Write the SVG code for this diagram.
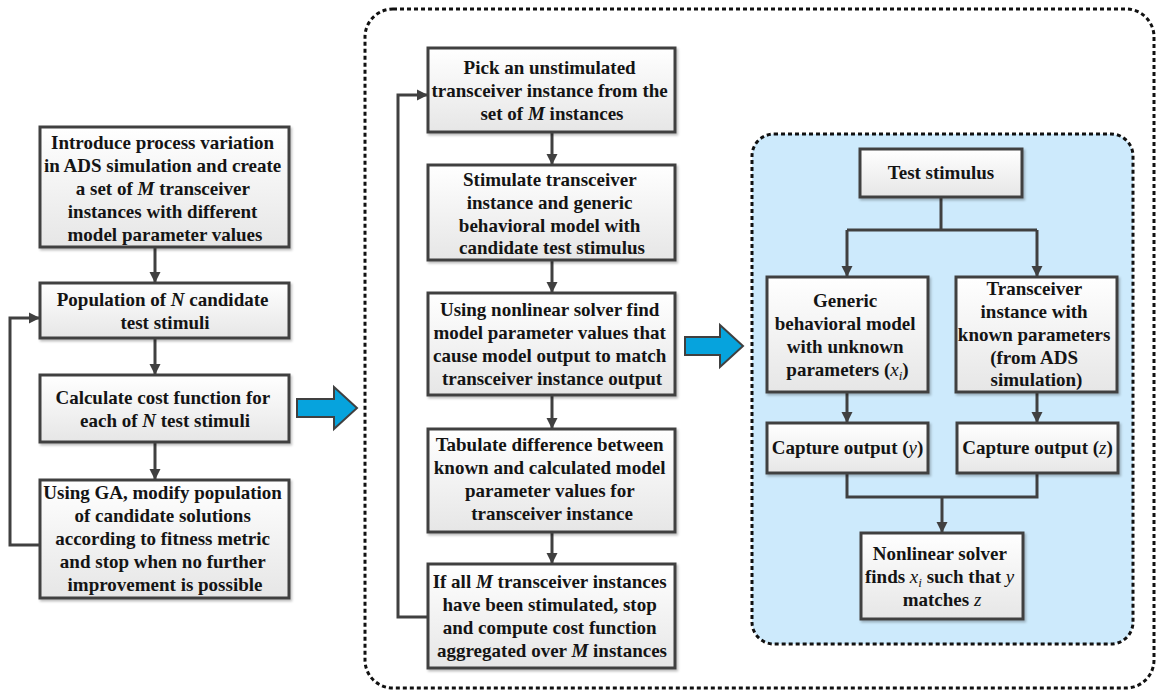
<svg xmlns="http://www.w3.org/2000/svg" width="1158" height="696" viewBox="0 0 1158 696">
  <defs>
    <linearGradient id="boxFill" x1="0" y1="0" x2="0" y2="1">
      <stop offset="0" stop-color="#ffffff"/>
      <stop offset="1" stop-color="#e6e6e6"/>
    </linearGradient>
    <filter id="shadow" x="-10%" y="-10%" width="120%" height="130%">
      <feDropShadow dx="1.5" dy="2" stdDeviation="1.2" flood-color="#000" flood-opacity="0.25"/>
    </filter>
    <marker id="arrow" markerUnits="userSpaceOnUse" markerWidth="12" markerHeight="12" refX="11" refY="6" orient="auto">
      <path d="M0,0.5 L11,6 L0,11.5 z" fill="#404040"/>
    </marker>
    <style>
      .box { fill: url(#boxFill); stroke: #404040; stroke-width: 3; filter: url(#shadow); }
      .t { font-family: "Liberation Serif", "Times New Roman", serif; font-size: 19px; font-weight: bold; fill: #141414; text-anchor: middle; }
      .v { font-style: italic; }
      .vn { font-style: italic; font-weight: normal; }
      .sub { font-style: italic; font-weight: normal; font-size: 13px; }
      .conn { fill: none; stroke: #404040; stroke-width: 3; }
      .frame { fill: none; stroke: #111; stroke-width: 3; stroke-dasharray: 4 3; }
      .blue { fill: #06a3dd; stroke: #404040; stroke-width: 2; stroke-linejoin: miter; }
    </style>
  </defs>

  <!-- enclosing dashed frames -->
  <rect class="frame" x="365" y="9" width="789" height="679" rx="28"/>
  <rect class="frame" x="752" y="134" width="381" height="510" rx="22" style="fill:#cdeafc"/>

  <!-- block arrows between stages -->
  <polygon class="blue" points="297,399 334,399 334,387 357,408 334,429 334,417 297,417"/>
  <polygon class="blue" points="685,337 720,337 720,325 743,346 720,367 720,355 685,355"/>

  <!-- connectors -->
  <g id="connectors">
    <line class="conn" x1="155" y1="247" x2="155" y2="283" marker-end="url(#arrow)"/>
    <line class="conn" x1="155" y1="338" x2="155" y2="375" marker-end="url(#arrow)"/>
    <line class="conn" x1="155" y1="442" x2="155" y2="480" marker-end="url(#arrow)"/>
    <path class="conn" d="M40,545 H10 V318 H40" marker-end="url(#arrow)"/>

    <line class="conn" x1="552" y1="132" x2="552" y2="165" marker-end="url(#arrow)"/>
    <line class="conn" x1="552" y1="260" x2="552" y2="293" marker-end="url(#arrow)"/>
    <line class="conn" x1="552" y1="395" x2="552" y2="429" marker-end="url(#arrow)"/>
    <line class="conn" x1="552" y1="532" x2="552" y2="564" marker-end="url(#arrow)"/>
    <path class="conn" d="M428,617 H398 V95 H428" marker-end="url(#arrow)"/>

    <path class="conn" d="M941,197 V230"/>
    <path class="conn" d="M847,230 H1037"/>
    <line class="conn" x1="847" y1="230" x2="847" y2="277" marker-end="url(#arrow)"/>
    <line class="conn" x1="1037" y1="230" x2="1037" y2="277" marker-end="url(#arrow)"/>
    <line class="conn" x1="847" y1="392" x2="847" y2="423" marker-end="url(#arrow)"/>
    <line class="conn" x1="1037" y1="392" x2="1037" y2="423" marker-end="url(#arrow)"/>
    <path class="conn" d="M847,473 V497 H1037 V473"/>
    <line class="conn" x1="942" y1="497" x2="942" y2="533" marker-end="url(#arrow)"/>
  </g>

  <!-- left column: genetic algorithm loop -->
  <g id="introduce">
    <rect class="box" x="40" y="127" width="249" height="120"/>
    <text class="t">
      <tspan x="165" y="148.5">Introduce process variation</tspan>
      <tspan x="165" y="171.5">in ADS simulation and create</tspan>
      <tspan x="165" y="194.5">a set of <tspan class="v">M</tspan> transceiver</tspan>
      <tspan x="165" y="217.5">instances with different</tspan>
      <tspan x="165" y="240.5">model parameter values</tspan>
    </text>
  </g>
  <g id="population">
    <rect class="box" x="40" y="283" width="249" height="55"/>
    <text class="t">
      <tspan x="165" y="305.5">Population of <tspan class="v">N</tspan> candidate</tspan>
      <tspan x="165" y="328.5">test stimuli</tspan>
    </text>
  </g>
  <g id="cost">
    <rect class="box" x="40" y="375" width="249" height="67"/>
    <text class="t">
      <tspan x="165" y="403.5">Calculate cost function for</tspan>
      <tspan x="165" y="426.5">each of <tspan class="v">N</tspan> test stimuli</tspan>
    </text>
  </g>
  <g id="ga">
    <rect class="box" x="40" y="480" width="249" height="118"/>
    <text class="t">
      <tspan x="165" y="498.5">Using GA, modify population</tspan>
      <tspan x="165" y="521.5">of candidate solutions</tspan>
      <tspan x="165" y="544.5">according to fitness metric</tspan>
      <tspan x="165" y="567.5">and stop when no further</tspan>
      <tspan x="165" y="590.5">improvement is possible</tspan>
    </text>
  </g>

  <!-- middle column: cost function evaluation -->
  <g id="pick">
    <rect class="box" x="428" y="48" width="247" height="84"/>
    <text class="t">
      <tspan x="552" y="73.5">Pick an unstimulated</tspan>
      <tspan x="552" y="96.5">transceiver instance from the</tspan>
      <tspan x="552" y="119.5">set of <tspan class="v">M</tspan> instances</tspan>
    </text>
  </g>
  <g id="stimulate">
    <rect class="box" x="428" y="165" width="247" height="95"/>
    <text class="t">
      <tspan x="552" y="185.5">Stimulate transceiver</tspan>
      <tspan x="552" y="208.5">instance and generic</tspan>
      <tspan x="552" y="231.5">behavioral model with</tspan>
      <tspan x="552" y="254">candidate test stimulus</tspan>
    </text>
  </g>
  <g id="solve">
    <rect class="box" x="428" y="293" width="247" height="102"/>
    <text class="t">
      <tspan x="552" y="315.5">Using nonlinear solver find</tspan>
      <tspan x="552" y="338.5">model parameter values that</tspan>
      <tspan x="552" y="361.5">cause model output to match</tspan>
      <tspan x="552" y="384.5">transceiver instance output</tspan>
    </text>
  </g>
  <g id="tabulate">
    <rect class="box" x="428" y="429" width="247" height="103"/>
    <text class="t">
      <tspan x="552" y="450.5">Tabulate difference between</tspan>
      <tspan x="552" y="473.5">known and calculated model</tspan>
      <tspan x="552" y="496.5">parameter values for</tspan>
      <tspan x="552" y="519.5">transceiver instance</tspan>
    </text>
  </g>
  <g id="aggregate">
    <rect class="box" x="428" y="564" width="247" height="104"/>
    <text class="t">
      <tspan x="552" y="587.5">If all <tspan class="v">M</tspan> transceiver instances</tspan>
      <tspan x="552" y="610.5">have been stimulated, stop</tspan>
      <tspan x="552" y="633.5">and compute cost function</tspan>
      <tspan x="552" y="656.5">aggregated over <tspan class="v">M</tspan> instances</tspan>
    </text>
  </g>

  <!-- right panel: parameter extraction -->
  <g id="stimulus">
    <rect class="box" x="860" y="149" width="162" height="48"/>
    <text class="t" x="941" y="178.5">Test stimulus</text>
  </g>
  <g id="generic">
    <rect class="box" x="767" y="277" width="161" height="115"/>
    <text class="t">
      <tspan x="847.5" y="306.5">Generic</tspan>
      <tspan x="847.5" y="329.5">behavioral model</tspan>
      <tspan x="847.5" y="352.5">with unknown</tspan>
      <tspan x="847.5" y="375.5">parameters (<tspan class="vn">x</tspan><tspan class="sub" dy="4">i</tspan><tspan dy="-4">)</tspan></tspan>
    </text>
  </g>
  <g id="instance">
    <rect class="box" x="956" y="277" width="161" height="115"/>
    <text class="t">
      <tspan x="1036.5" y="294.5">Transceiver</tspan>
      <tspan x="1036.5" y="317.5">instance with</tspan>
      <tspan x="1036.5" y="340.5">known parameters</tspan>
      <tspan x="1036.5" y="363.5">(from ADS</tspan>
      <tspan x="1036.5" y="386">simulation)</tspan>
    </text>
  </g>
  <g id="capture-y">
    <rect class="box" x="767" y="423" width="161" height="50"/>
    <text class="t" x="847.5" y="453.5">Capture output (<tspan class="vn">y</tspan>)</text>
  </g>
  <g id="capture-z">
    <rect class="box" x="957" y="423" width="161" height="50"/>
    <text class="t" x="1037.5" y="453.5">Capture output (<tspan class="vn">z</tspan>)</text>
  </g>
  <g id="nonlinear">
    <rect class="box" x="861" y="533" width="162" height="86"/>
    <text class="t">
      <tspan x="942" y="559.5">Nonlinear solver</tspan>
      <tspan x="942" y="582.5">finds <tspan class="vn">x</tspan><tspan class="sub" dy="4">i</tspan><tspan dy="-4"> such that </tspan><tspan class="vn">y</tspan></tspan>
      <tspan x="942" y="605.5">matches <tspan class="vn">z</tspan></tspan>
    </text>
  </g>
</svg>
